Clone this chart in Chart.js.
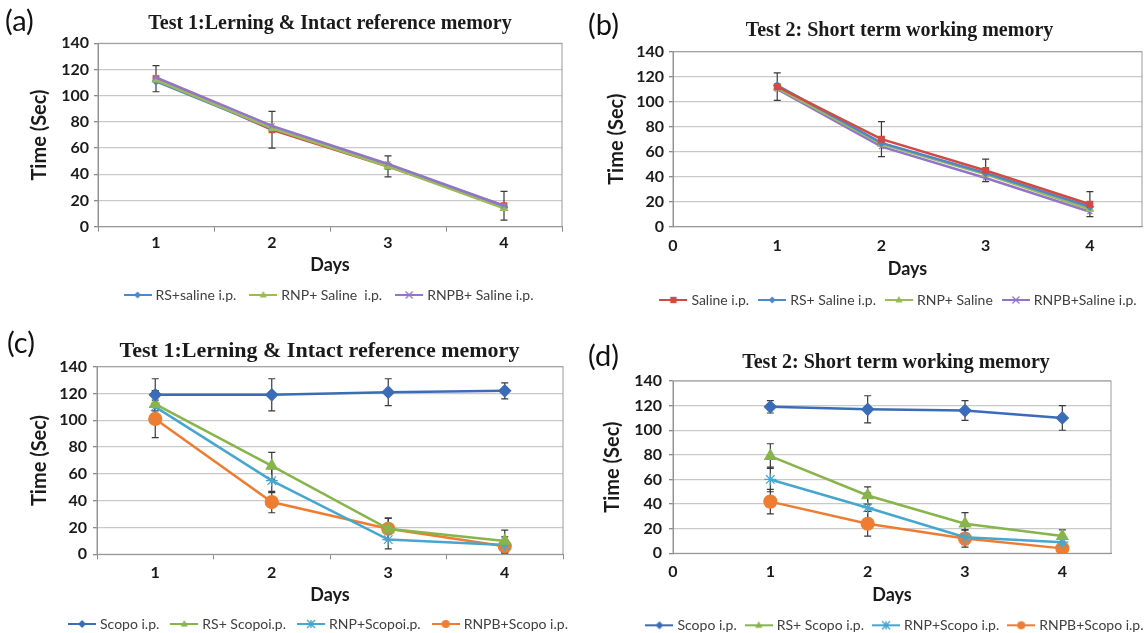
<!DOCTYPE html>
<html>
<head>
<meta charset="utf-8">
<script src="https://cdn.jsdelivr.net/npm/chart.js@4/dist/chart.umd.min.js"></script>
<style>
  html,body{margin:0;padding:0;background:#fff;}
  body{width:1145px;height:633px;position:relative;overflow:hidden;}
  canvas{position:absolute;}
  .plab{position:absolute;font-family:Lato,'Liberation Sans',sans-serif;font-size:29px;line-height:1;color:#111;}
</style>
</head>
<body>
<canvas id="ca"></canvas>
<canvas id="cb"></canvas>
<canvas id="cc"></canvas>
<canvas id="cd"></canvas>
<div class="plab" style="left:5px;top:5px;">(a)</div>
<div class="plab" style="left:588px;top:9px;">(b)</div>
<div class="plab" style="left:7px;top:327px;">(c)</div>
<div class="plab" style="left:588px;top:340px;">(d)</div>
<script>
// ---------------- data ----------------
const days = [1, 2, 3, 4];
const dayLabels = ['1', '2', '3', '4'];
const yTicks = { min: 0, max: 140, step: 20 };

// (a) Test 1 – saline groups
const aSaline = [113, 74, 46, 16];
const aSalineErr = [10, 14, 8, 11];
const aRS = [111, 75, 47, 15];
const aRNP = [112, 75, 46, 14];
const aRNPB = [114, 77, 48, 16];

// (b) Test 2 – saline groups
const bSaline = [112, 70, 45, 18];
const bSalineErr = [11, 14, 9, 10];
const bRS = [113, 67, 43, 16];
const bRNP = [111, 66, 42, 14];
const bRNPB = [110, 64, 39, 12];

// (c) Test 1 – scopolamine groups
const cScopo = [119, 119, 121, 122];
const cScopoErr = [12, 12, 10, 6];
const cRS = [112, 66, 19, 10];
const cRSErr = [10, 10, 8, 8];
const cRNP = [110, 55, 11, 7];
const cRNPErr = [12, 9, 7, 6];
const cRNPB = [101, 39, 19, 6];
const cRNPBErr = [14, 8, 8, 5];

// (d) Test 2 – scopolamine groups
const dScopo = [119, 117, 116, 110];
const dScopoErr = [5, 11, 8, 10];
const dRS = [79, 47, 24, 14];
const dRSErr = [10, 7, 9, 5];
const dRNP = [60, 37, 13, 9];
const dRNPErr = [10, 12, 6, 4];
const dRNPB = [42, 24, 12, 4];
const dRNPBErr = [10, 10, 7, 3];

const titles = {
  a: 'Test 1:Lerning & Intact reference memory',
  b: 'Test 2: Short term working memory',
  c: 'Test 1:Lerning & Intact reference memory',
  d: 'Test 2: Short term working memory'
};
const xTitle = 'Days';
const yTitle = 'Time (Sec)';

// ---------------- styling ----------------
const COL = {
  red: '#d14b44', blue: '#4f86c6', green: '#9bbb59', purple: '#9474c8',
  sBlue: '#3b6cb7', sGreen: '#87b44b', sCyan: '#45a6cf', sOrange: '#ee7d31'
};
const TICK_SIZE = 16, DAYS_SIZE = 18, YT_SIZE = 20;
Chart.defaults.font.family = 'Lato, "Liberation Sans", sans-serif';
Chart.defaults.color = '#1a1a1a';

function drawMarker(ctx, style, x, y, r, color) {
  ctx.save();
  ctx.fillStyle = color; ctx.strokeStyle = color; ctx.lineWidth = 1.4;
  ctx.beginPath();
  if (style === 'rect') { ctx.rect(x - r * 0.8, y - r * 0.8, r * 1.6, r * 1.6); ctx.fill(); }
  else if (style === 'rectRot') { ctx.moveTo(x, y - r); ctx.lineTo(x + r, y); ctx.lineTo(x, y + r); ctx.lineTo(x - r, y); ctx.closePath(); ctx.fill(); }
  else if (style === 'triangle') { ctx.moveTo(x, y - r); ctx.lineTo(x + r * 0.9, y + r * 0.6); ctx.lineTo(x - r * 0.9, y + r * 0.6); ctx.closePath(); ctx.fill(); }
  else if (style === 'circle') { ctx.arc(x, y, r, 0, Math.PI * 2); ctx.fill(); }
  else if (style === 'crossRot') { ctx.moveTo(x - r, y - r); ctx.lineTo(x + r, y + r); ctx.moveTo(x + r, y - r); ctx.lineTo(x - r, y + r); ctx.stroke(); }
  else if (style === 'star') { ctx.moveTo(x - r, y - r); ctx.lineTo(x + r, y + r); ctx.moveTo(x + r, y - r); ctx.lineTo(x - r, y + r); ctx.moveTo(x, y - r); ctx.lineTo(x, y + r); ctx.stroke(); }
  ctx.restore();
}
function legendIcon(color, style, r) {
  const c = document.createElement('canvas');
  c.width = 28; c.height = 14;
  const g = c.getContext('2d');
  g.strokeStyle = color; g.lineWidth = 2;
  g.beginPath(); g.moveTo(0, 7); g.lineTo(28, 7); g.stroke();
  drawMarker(g, style, 14, 7, r, color);
  return c;
}

function series(label, values, color, style, radius, opts) {
  opts = opts || {};
  return Object.assign({
    label: label,
    data: values,
    borderColor: color,
    backgroundColor: color,
    pointBackgroundColor: color,
    pointBorderColor: color,
    pointStyle: style,
    pointRadius: radius,
    pointBorderWidth: 1.2,
    borderWidth: 2.5,
    tension: 0,
    fill: false,
    legendIcon: legendIcon(color, style, Math.min(radius, 4))
  }, opts);
}

const errorBarPlugin = {
  id: 'errorBars',
  beforeDatasetsDraw(chart) {
    const { ctx, chartArea: a } = chart;
    ctx.save();
    ctx.strokeStyle = '#9a9a9a'; ctx.lineWidth = 1;
    ctx.strokeRect(a.left, a.top, a.right - a.left, a.bottom - a.top);
    const ys = chart.scales.y;
    ctx.strokeStyle = '#3a3a3a'; ctx.lineWidth = 1.2;
    chart.data.datasets.forEach((ds, i) => {
      if (!ds.errors) return;
      const meta = chart.getDatasetMeta(i);
      meta.data.forEach((pt, j) => {
        const e = ds.errors[j];
        if (e == null) return;
        const raw = ds.data[j];
        const v = (typeof raw === 'object') ? raw.y : raw;
        const yt = ys.getPixelForValue(v + e), yb = ys.getPixelForValue(v - e);
        ctx.beginPath();
        ctx.moveTo(pt.x, yt); ctx.lineTo(pt.x, yb);
        ctx.moveTo(pt.x - 3.5, yt); ctx.lineTo(pt.x + 3.5, yt);
        ctx.moveTo(pt.x - 3.5, yb); ctx.lineTo(pt.x + 3.5, yb);
        ctx.stroke();
      });
    });
    ctx.restore();
  }
};

function build(spec) {
  const cv = document.getElementById(spec.id);
  cv.width = spec.W; cv.height = spec.H;
  cv.style.left = spec.left + 'px'; cv.style.top = spec.top + 'px';
  const a = spec.area;
  const Ptop = spec.titleCY - 0.6 * spec.titleSize;
  const titlePadB = a.t - Ptop - 1.2 * spec.titleSize;
  const Pbot = spec.H - spec.legendSize / 2 - 10 - spec.legendCY;
  const legendTop = spec.legendCY - spec.legendPad - spec.legendSize / 2;
  const xH = legendTop - a.b;
  const xTitlePadB = legendTop - spec.daysCY - 0.6 * DAYS_SIZE;
  const isCat = spec.xType === 'category';
  const xTl = isCat ? 5 : 0;
  const xTickPad = spec.tickCY - a.b - 0.6 * TICK_SIZE - xTl;
  const yTitlePadT = spec.yTitleCX - 0.6 * YT_SIZE;
  const rightW = spec.W - a.r;

  const xScale = isCat ? {
    type: 'category', offset: true,
    grid: { display: true, drawOnChartArea: false, offset: true, drawTicks: true, tickLength: xTl, color: '#8a8a8a', tickColor: '#8a8a8a' },
    border: { display: true, color: '#8a8a8a', width: 1 },
    ticks: { padding: xTickPad, font: { size: TICK_SIZE, weight: 'bold' }, color: '#1a1a1a', maxRotation: 0 },
    title: { display: true, text: xTitle, font: { size: DAYS_SIZE, weight: 'bold' }, color: '#1a1a1a', padding: { top: 0, bottom: xTitlePadB } },
    afterFit: s => { s.height = xH; }
  } : {
    type: 'linear', min: 0, max: 4.5,
    grid: { display: true, drawOnChartArea: false, drawTicks: false, color: '#8a8a8a' },
    border: { display: true, color: '#8a8a8a', width: 1 },
    ticks: { stepSize: 1, padding: xTickPad, font: { size: TICK_SIZE, weight: 'bold' }, color: '#1a1a1a', maxRotation: 0 },
    afterBuildTicks: s => { s.ticks = s.ticks.filter(t => Number.isInteger(t.value)); },
    title: { display: true, text: xTitle, font: { size: DAYS_SIZE, weight: 'bold' }, color: '#1a1a1a', padding: { top: 0, bottom: xTitlePadB } },
    afterFit: s => { s.height = xH; }
  };

  const data = isCat
    ? { labels: dayLabels, datasets: spec.datasets }
    : { datasets: spec.datasets.map(ds => Object.assign({}, ds, { data: ds.data.map((v, i) => ({ x: days[i], y: v })) })) };

  return new Chart(cv, {
    type: 'line',
    data: data,
    plugins: [errorBarPlugin],
    options: {
      responsive: false,
      animation: false,
      devicePixelRatio: 1,
      layout: { padding: { left: 0, right: 0, top: Ptop, bottom: Pbot } },
      scales: {
        x: xScale,
        y: {
          type: 'linear', position: 'left', min: yTicks.min, max: yTicks.max,
          ticks: { stepSize: yTicks.step, padding: spec.yTickGap - 4, font: { size: TICK_SIZE, weight: 'bold' }, color: '#1a1a1a' },
          grid: { color: '#c9c9c9', lineWidth: 1.3, drawTicks: true, tickLength: 4, tickColor: '#8a8a8a' },
          border: { display: true, color: '#8a8a8a', width: 1 },
          title: { display: true, text: yTitle, font: { size: YT_SIZE, weight: 'bold' }, color: '#1a1a1a', padding: { top: yTitlePadT, bottom: 0 } },
          afterFit: s => { s.width = a.l; }
        },
        yRight: {
          type: 'linear', position: 'right', display: true,
          grid: { display: false }, ticks: { display: false }, border: { display: false },
          afterFit: s => { s.width = rightW; }
        }
      },
      plugins: {
        title: {
          display: true, text: spec.title, fullSize: true,
          font: { family: '"Liberation Serif", "Times New Roman", serif', size: spec.titleSize, weight: 'bold', lineHeight: 1.2 },
          color: '#1a1a1a', padding: { top: 0, bottom: titlePadB }
        },
        legend: {
          display: true, position: 'bottom', fullSize: true,
          labels: {
            usePointStyle: true, pointStyleWidth: 22, padding: spec.legendPad,
            font: { size: spec.legendSize }, color: '#404040',
            filter: (item, d) => !d.datasets[item.datasetIndex].hideInLegend,
            sort: (p, q) => p.datasetIndex - q.datasetIndex,
            generateLabels: chart => {
              const items = Chart.defaults.plugins.legend.labels.generateLabels(chart);
              items.forEach(it => { it.pointStyle = chart.data.datasets[it.datasetIndex].legendIcon; });
              return items;
            }
          }
        },
        tooltip: { enabled: false }
      }
    }
  });
}

// ---------------- panels ----------------
build({
  id: 'ca', left: 0, top: 0, W: 660, H: 320,
  area: { l: 98, r: 562, t: 43.3, b: 226.7 },
  title: titles.a, titleSize: 20, titleCY: 24,
  legendSize: 14, legendCY: 295, legendPad: 16,
  tickCY: 242.8, daysCY: 265.5, yTitleCX: 40, yTickGap: 9,
  xType: 'category',
  datasets: [
    series('Saline i.p.', aSaline, COL.red, 'rect', 4, { hideInLegend: true, errors: aSalineErr, order: 3 }),
    series('RS+saline i.p.', aRS, COL.blue, 'rectRot', 3.5, { order: 2 }),
    series('RNP+ Saline  i.p.', aRNP, COL.green, 'triangle', 4, { order: 1 }),
    series('RNPB+ Saline i.p.', aRNPB, COL.purple, 'crossRot', 3.5, { order: 0 })
  ]
});

build({
  id: 'cb', left: 575, top: 0, W: 649, H: 320,
  area: { l: 98, r: 567, t: 51.7, b: 226.7 },
  title: titles.b, titleSize: 20, titleCY: 31.2,
  legendSize: 14, legendCY: 300, legendPad: 12,
  tickCY: 246, daysCY: 269, yTitleCX: 42, yTickGap: 9,
  xType: 'linear',
  datasets: [
    series('Saline i.p.', bSaline, COL.red, 'rect', 4, { errors: bSalineErr }),
    series('RS+ Saline i.p.', bRS, COL.blue, 'rectRot', 3.5),
    series('RNP+ Saline', bRNP, COL.green, 'triangle', 4),
    series('RNPB+Saline i.p.', bRNPB, COL.purple, 'crossRot', 3.5)
  ]
});

build({
  id: 'cc', left: 0, top: 318, W: 639, H: 330,
  area: { l: 97, r: 563, t: 48.7, b: 236.3 },
  title: titles.c, titleSize: 22, titleCY: 33.7,
  legendSize: 14, legendCY: 306, legendPad: 14,
  tickCY: 255, daysCY: 277.3, yTitleCX: 40, yTickGap: 10,
  xType: 'category',
  datasets: [
    series('Scopo i.p.', cScopo, COL.sBlue, 'rectRot', 6, { errors: cScopoErr }),
    series('RS+ Scopoi.p.', cRS, COL.sGreen, 'triangle', 6.5, { errors: cRSErr }),
    series('RNP+Scopoi.p.', cRNP, COL.sCyan, 'star', 6, { errors: cRNPErr }),
    series('RNPB+Scopo i.p.', cRNPB, COL.sOrange, 'circle', 6.5, { errors: cRNPBErr })
  ]
});

build({
  id: 'cd', left: 575, top: 318, W: 642, H: 330,
  area: { l: 98, r: 536, t: 63, b: 235.3 },
  title: titles.d, titleSize: 20, titleCY: 45.3,
  legendSize: 14, legendCY: 307.3, legendPad: 11,
  tickCY: 253.7, daysCY: 277.3, yTitleCX: 38, yTickGap: 11,
  xType: 'linear',
  datasets: [
    series('Scopo i.p.', dScopo, COL.sBlue, 'rectRot', 6, { errors: dScopoErr }),
    series('RS+ Scopo i.p.', dRS, COL.sGreen, 'triangle', 6.5, { errors: dRSErr }),
    series('RNP+Scopo i.p.', dRNP, COL.sCyan, 'star', 6, { errors: dRNPErr }),
    series('RNPB+Scopo i.p.', dRNPB, COL.sOrange, 'circle', 6.5, { errors: dRNPBErr })
  ]
});
</script>
</body>
</html>
